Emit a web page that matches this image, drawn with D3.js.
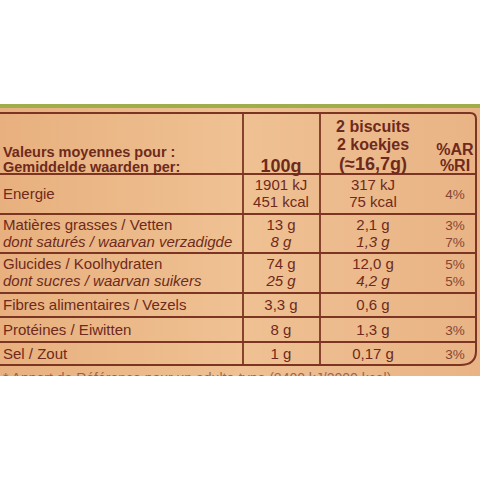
<!DOCTYPE html>
<html><head><meta charset="utf-8">
<script src="https://cdn.jsdelivr.net/npm/d3@7"></script>
<style>body{margin:0;background:#fff}svg{display:block}</style>
</head><body>
<svg id="chart" width="480" height="480"></svg>
<script>
var labels = [
  ["Energie"],
  ["Matières grasses / Vetten", "dont saturés / waarvan verzadigde"],
  ["Glucides / Koolhydraten", "dont sucres / waarvan suikers"],
  ["Fibres alimentaires / Vezels"],
  ["Protéines / Eiwitten"],
  ["Sel / Zout"]
];
var per100 = [["1901 kJ", "451 kcal"], ["13 g", "8 g"], ["74 g", "25 g"], ["3,3 g"], ["8 g"], ["1 g"]];
var perServing = [["317 kJ", "75 kcal"], ["2,1 g", "1,3 g"], ["12,0 g", "4,2 g"], ["0,6 g"], ["1,3 g"], ["0,17 g"]];
var ri = [["4%"], ["3%", "7%"], ["5%", "5%"], [""], ["3%"], ["3%"]];
var headers = [["Valeurs moyennes pour :", "Gemiddelde waarden per:"], ["100g"], ["2 biscuits", "2 koekjes", "(≈16,7g)"], ["%AR", "%RI"]];

var chart = d3.select("#chart");
var ink = "#6e2a1c", line = "#7b3522";
var font = "Liberation Sans, Arial, sans-serif";

// background card
var bg = chart.append("defs").append("linearGradient").attr("id", "bg").attr("x1", 0).attr("x2", 1);
bg.append("stop").attr("offset", "0").attr("stop-color", "#e8b07e");
bg.append("stop").attr("offset", "0.5").attr("stop-color", "#efc193");
bg.append("stop").attr("offset", "1").attr("stop-color", "#e9b385");
chart.append("rect").attr("x", 0).attr("y", 104).attr("width", 480).attr("height", 272).attr("fill", "url(#bg)");
chart.append("rect").attr("x", 0).attr("y", 104).attr("width", 480).attr("height", 4).attr("fill", "#9fae4a");

// layout
var tableTop = 113, headH = 61;
var rowH = [40, 39, 40, 24, 25, 23];
var rowY = [tableTop + headH];
rowH.forEach(function (h, i) { rowY.push(rowY[i] + h); });
var bottom = rowY[rowY.length - 1];
var colX = d3.scaleOrdinal().domain([0, 1, 2, 3]).range([3, 281, 373, 455]);
var colAnchor = ["start", "middle", "middle", "middle"];

// frame
chart.append("path")
  .attr("d", "M-2," + tableTop + "H470Q476," + tableTop + " 476," + (tableTop + 6) + "V" + (bottom - 14) +
    "Q476," + bottom + " 460," + bottom + "H-2")
  .attr("fill", "none").attr("stroke", line).attr("stroke-width", 2);
[243, 320].forEach(function (x) {
  chart.append("line").attr("x1", x).attr("x2", x).attr("y1", tableTop).attr("y2", bottom)
    .attr("stroke", line).attr("stroke-width", 1.8);
});
chart.selectAll("line.row").data(rowY.slice(0, -1)).enter().append("line")
  .attr("x1", 0).attr("x2", 476).attr("y1", function (d) { return d; }).attr("y2", function (d) { return d; })
  .attr("stroke", line).attr("stroke-width", 1.8);

// header
var headBase = [[157, 172], [172], [132, 150, 170], [155, 171]];
headers.forEach(function (lines, c) {
  lines.forEach(function (t, k) {
    chart.append("text").text(t).attr("x", colX(c)).attr("y", headBase[c][k])
      .attr("text-anchor", colAnchor[c]).attr("fill", ink).attr("font-family", font)
      .attr("font-weight", "bold")
      .attr("font-size", c === 1 || (c === 2 && k === 2) ? 18 : (c === 0 ? 14.5 : 16));
  });
});

// body rows
var cols = [labels, per100, perServing, ri];
cols.forEach(function (col, c) {
  col.forEach(function (lines, r) {
    var n = lines.length, mid = (rowY[r] + rowY[r + 1]) / 2;
    lines.forEach(function (t, k) {
      var y = n === 1 ? mid + 5 : mid - 4 + 17 * k;
      chart.append("text").text(t).attr("x", colX(c)).attr("y", y)
        .attr("text-anchor", colAnchor[c]).attr("fill", ink).attr("font-family", font)
        .attr("font-size", c === 3 ? 13.5 : 15)
        .attr("font-style", k === 1 && c !== 3 && r > 0 ? "italic" : null)
        .attr("opacity", c === 3 ? 0.8 : 1);
    });
  });
});
// cut-off footnote line
chart.append("text").text("* Apport de Référence pour un adulte-type (8400 kJ/2000 kcal)")
  .attr("x", 3).attr("y", 383).attr("fill", ink).attr("font-family", font).attr("font-size", 14).attr("opacity", 0.6);
chart.append("rect").attr("x", 0).attr("y", 376).attr("width", 480).attr("height", 104).attr("fill", "#fff");
</script>
</body></html>
